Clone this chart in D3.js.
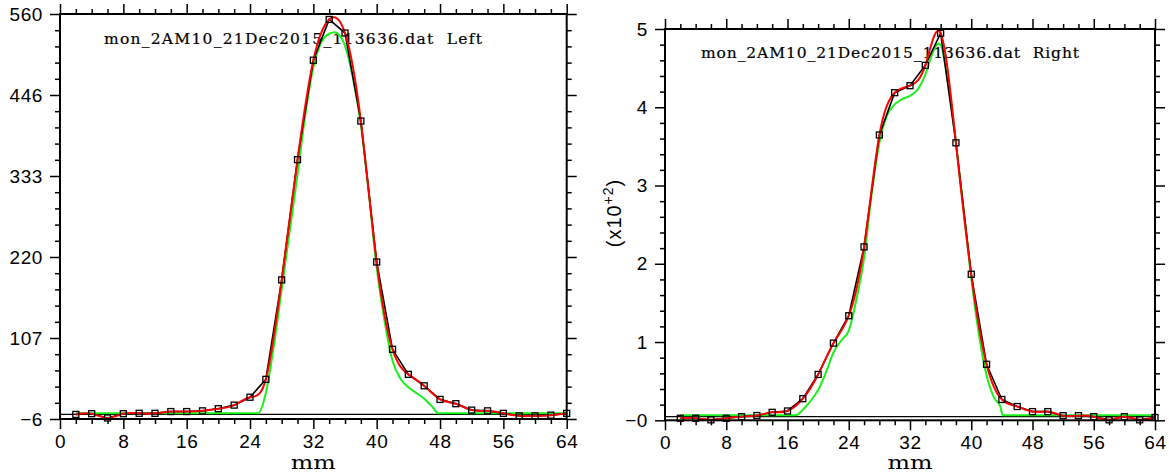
<!DOCTYPE html>
<html>
<head>
<meta charset="utf-8">
<script src="https://cdn.jsdelivr.net/npm/d3@7"></script>
<style>
  html, body { margin: 0; padding: 0; background: #fff; }
  svg { display: block; }
  .tick text { font-family: "Liberation Sans", Arial, sans-serif; font-size: 19px; fill: #000; letter-spacing: 0.6px; }
  .tick line { stroke: #000; stroke-width: 1.5; }
  .title { font-family: "DejaVu Serif", serif; font-size: 15.5px; fill: #000; stroke: #000; stroke-width: 0.2px; white-space: pre; }
  .xlab { font-family: "DejaVu Serif", serif; font-size: 18px; fill: #000; }
  .ylab { font-family: "Liberation Sans", Arial, sans-serif; font-size: 20px; fill: #000; letter-spacing: 1px; }
</style>
</head>
<body>
<svg id="chart" width="1169" height="476"></svg>
<script>
// Wire-scan positions (mm), shared by both monitor planes
const positions = [2, 4, 6, 8, 10, 12, 14, 16, 18, 20, 22, 24, 26, 28, 30, 32,
                   34, 36, 38, 40, 42, 44, 46, 48, 50, 52, 54, 56, 58, 60, 62, 64];

// Left plane: measured counts
const leftCounts = [0, 1, -5, 1, 1.5, 1.5, 4, 4, 5, 8, 13, 24, 49, 188, 356, 495,
                    552, 533, 410, 213, 91, 56, 40, 21, 15, 6, 5, 1.5, -2, -2, -1, 1.5];

// Right plane: measured counts (x10^2)
const rightCounts = [-0.02, -0.02, -0.04, -0.02, 0.0, 0.015, 0.056, 0.073, 0.23, 0.54, 0.94, 1.29,
                     2.17, 3.60, 4.14, 4.23, 4.49, 4.90, 3.50, 1.82, 0.67, 0.22, 0.13, 0.065,
                     0.065, 0.013, 0.013, 0.0, -0.04, 0.0, -0.04, -0.01];

// Model profiles (green)
const leftModelMm  = [2, 25, 26, 27, 28, 29, 30, 31, 32, 33, 34, 34.7, 35, 36, 37, 38,
                      39, 40, 41, 42, 43, 44, 45, 46, 47, 47.8, 64];
const leftModelVal = [1.5, 1.5, 30, 95, 175, 255, 335, 420, 485, 520, 532, 534, 533, 515, 470, 405,
                      310, 205, 130, 75, 50, 38, 30, 22, 11, 1.5, 1.5];

const rightModelMm  = [2, 17.1, 18, 19, 20, 21, 22, 23, 24, 25, 26, 27, 28, 29, 30, 31, 32,
                       33, 34, 35, 35.7, 36, 37, 38, 39, 40, 41, 42, 43, 43.8, 44.1, 64];
const rightModelVal = [0.02, 0.02, 0.09, 0.2, 0.34, 0.56, 0.82, 0.97, 1.1, 1.5, 2.03, 2.85, 3.5,
                       3.85, 3.99, 4.06, 4.10, 4.18, 4.37, 4.66, 4.77, 4.75, 4.25, 3.5, 2.65, 1.77,
                       1.05, 0.53, 0.24, 0.13, 0.02, 0.02];

// Axis ranges and tick labels
const xDomain = [0, 64];
const xTickValues = [0, 8, 16, 24, 32, 40, 48, 56, 64];
const xTickLabels = ["0", "8", "16", "24", "32", "40", "48", "56", "64"];
const leftYDomain = [-6.4, 559.6];
const leftYLabels = ["\u22126", "107", "220", "333", "446", "560"];
const rightYDomain = [-0.046, 4.954];
const rightYLabels = ["\u22120", "1", "2", "3", "4", "5"];

const titleLeft = "mon_2AM10_21Dec2015_113636.dat  Left";
const titleRight = "mon_2AM10_21Dec2015_113636.dat  Right";

const svg = d3.select("#chart");

function drawPanel(cfg) {
  const x = d3.scaleLinear().domain(xDomain).range([cfg.left, cfg.right]);
  const y = d3.scaleLinear().domain(cfg.yDomain).range([cfg.bottom, cfg.top]);
  const g = svg.append("g");

  // heading inside the frame
  g.append("text").attr("class", "title")
    .attr("x", cfg.titleX).attr("y", cfg.titleY)
    .attr("textLength", cfg.titleLen).attr("lengthAdjust", "spacing")
    .text(cfg.title);

  // zero line
  g.append("line")
    .attr("x1", x(xDomain[0])).attr("x2", x(xDomain[1]))
    .attr("y1", y(0)).attr("y2", y(0))
    .attr("stroke", "#000").attr("stroke-width", 1.3);

  // model curve
  const modelPts = cfg.modelMm.map((m, i) => [m, cfg.modelVal[i]]);
  g.append("path").datum(modelPts)
    .attr("fill", "none").attr("stroke", "#19f019").attr("stroke-width", 2)
    .attr("d", d3.line().x(d => x(d[0])).y(d => y(d[1])).curve(d3.curveMonotoneX));

  const pts = positions.map((p, i) => [p, cfg.values[i]]);

  // measured points joined by straight segments
  g.append("path").datum(pts)
    .attr("fill", "none").attr("stroke", "#000").attr("stroke-width", 1.6)
    .attr("d", d3.line().x(d => x(d[0])).y(d => y(d[1])));

  // spline through the measured points
  g.append("path").datum(pts)
    .attr("fill", "none").attr("stroke", "#ff0000").attr("stroke-width", 2)
    .attr("d", d3.line().x(d => x(d[0])).y(d => y(d[1])).curve(d3.curveNatural));

  // markers
  g.selectAll("rect.pt").data(pts).enter().append("rect")
    .attr("class", "pt")
    .attr("x", d => x(d[0]) - 3).attr("y", d => y(d[1]) - 3)
    .attr("width", 6).attr("height", 6)
    .attr("fill", "none").attr("stroke", "#000").attr("stroke-width", 1.3);

  // ticks
  const [y0, y1] = cfg.yDomain;
  const yMajor = d3.range(6).map(i => y0 + i * (y1 - y0) / 5);
  const yMinor = d3.range(26).map(i => y0 + i * (y1 - y0) / 25).filter((d, i) => i % 5 !== 0);
  const xMinor = d3.range(0, 65, 2).filter(d => d % 8 !== 0);

  const addAxis = (axis, tx, ty) => {
    const a = g.append("g").attr("transform", `translate(${tx},${ty})`).call(axis);
    a.select(".domain").remove();
    return a;
  };

  addAxis(d3.axisBottom(x).tickValues(xTickValues).tickSize(10).tickPadding(cfg.xPad)
    .tickFormat((d, i) => xTickLabels[i]), 0, cfg.bottom);
  addAxis(d3.axisBottom(x).tickValues(xMinor).tickSize(5).tickFormat(""), 0, cfg.bottom);
  addAxis(d3.axisTop(x).tickValues(xTickValues).tickSize(10).tickFormat(""), 0, cfg.top);
  addAxis(d3.axisTop(x).tickValues(xMinor).tickSize(5).tickFormat(""), 0, cfg.top);

  addAxis(d3.axisLeft(y).tickValues(yMajor).tickSize(10).tickPadding(7)
    .tickFormat((d, i) => cfg.yLabels[i]), cfg.left, 0);
  addAxis(d3.axisLeft(y).tickValues(yMinor).tickSize(5).tickFormat(""), cfg.left, 0);
  addAxis(d3.axisRight(y).tickValues(yMajor).tickSize(10).tickFormat(""), cfg.right, 0);
  addAxis(d3.axisRight(y).tickValues(yMinor).tickSize(5).tickFormat(""), cfg.right, 0);

  g.selectAll(".tick text").attr("font-family", null).attr("font-size", null);

  // frame
  g.append("rect")
    .attr("x", cfg.left).attr("y", cfg.top)
    .attr("width", cfg.right - cfg.left).attr("height", cfg.bottom - cfg.top)
    .attr("fill", "none").attr("stroke", "#000").attr("stroke-width", 2);

  // x axis title
  g.append("text").attr("class", "xlab")
    .attr("x", (cfg.left + cfg.right) / 2).attr("y", 469)
    .attr("text-anchor", "middle")
    .attr("textLength", 45).attr("lengthAdjust", "spacingAndGlyphs")
    .text("mm");
}

drawPanel({
  left: 60, right: 566.7, top: 14, bottom: 419, xPad: 6,
  yDomain: leftYDomain, yLabels: leftYLabels,
  values: leftCounts, modelMm: leftModelMm, modelVal: leftModelVal,
  title: titleLeft, titleX: 104, titleY: 43.5, titleLen: 378
});

drawPanel({
  left: 665, right: 1155, top: 29, bottom: 420.3, xPad: 5,
  yDomain: rightYDomain, yLabels: rightYLabels,
  values: rightCounts, modelMm: rightModelMm, modelVal: rightModelVal,
  title: titleRight, titleX: 701, titleY: 57.5, titleLen: 378
});

// scale factor label of the right plane
const ylab = svg.append("text").attr("class", "ylab")
  .attr("transform", "translate(621,213) rotate(-90)")
  .attr("text-anchor", "middle");
ylab.append("tspan").text("(x10");
ylab.append("tspan").attr("font-size", "14px").attr("dy", "-8").text("+2");
ylab.append("tspan").attr("dy", "8").text(")");
</script>
</body>
</html>
